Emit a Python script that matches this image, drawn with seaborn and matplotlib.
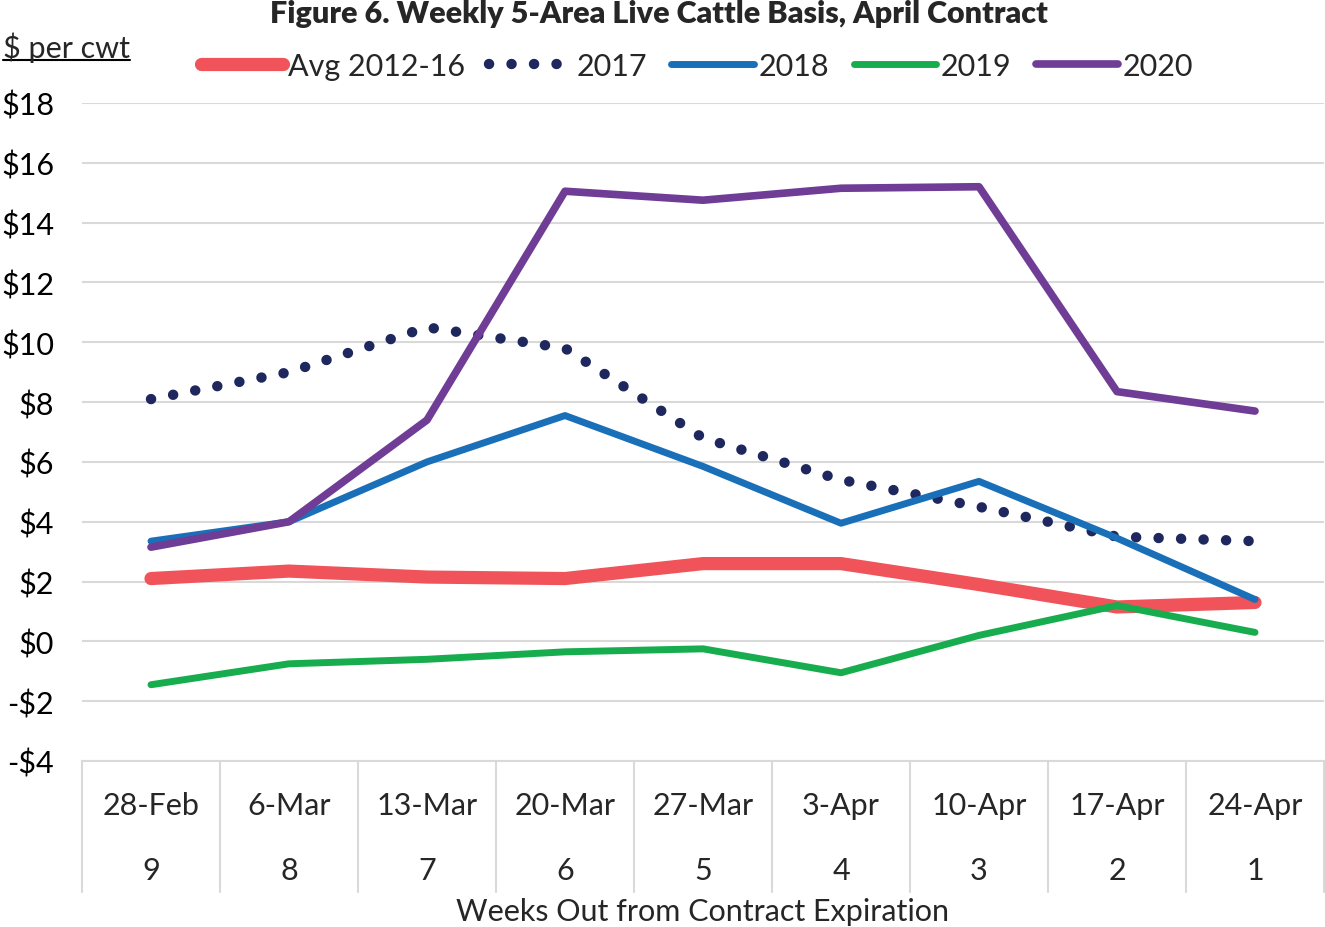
import matplotlib
matplotlib.use("Agg")
import matplotlib.pyplot as plt
import seaborn as sns
import numpy as np
from matplotlib.transforms import blended_transform_factory
from matplotlib.lines import Line2D

# ---- data ----
dates = ["28-Feb", "6-Mar", "13-Mar", "20-Mar", "27-Mar", "3-Apr", "10-Apr", "17-Apr", "24-Apr"]
weeks_out = ["9", "8", "7", "6", "5", "4", "3", "2", "1"]
avg_2012_16 = [2.1, 2.35, 2.15, 2.1, 2.6, 2.6, 1.9, 1.15, 1.3]
y2017 = [8.1, 9.0, 10.5, 9.8, 6.8, 5.4, 4.5, 3.5, 3.35]
y2018 = [3.35, 4.0, 6.0, 7.55, 5.85, 3.95, 5.35, 3.45, 1.4]
y2019 = [-1.45, -0.75, -0.6, -0.35, -0.25, -1.05, 0.2, 1.2, 0.3]
y2020 = [3.15, 4.0, 7.4, 15.05, 14.75, 15.15, 15.2, 8.35, 7.7]
series_names = ["Avg 2012-16", "2017", "2018", "2019", "2020"]
y_ticks = list(range(-4, 20, 2))

# ---- style ----
sns.set_theme(style="white")
plt.rcParams['font.family'] = ['Lato', 'DejaVu Sans']
FS = 22

fig = plt.figure(figsize=(13.25, 9.28), dpi=100)
L, R, T, B = 82 / 1325, 1324 / 1325, 1 - 104 / 928, 1 - 762 / 928
ax = fig.add_axes([L, B, R - L, T - B])

x = np.arange(len(dates))
values = [avg_2012_16, y2017, y2018, y2019, y2020]
colors = ["#F0545A", "#1F285E", "#1A70B8", "#17AD4F", "#6F3C96"]
widths = [9.5, 7.5, 5.0, 5.0, 5.5]
styles = ["-", (0, (0.01, 2.15)), "-", "-", "-"]

handles = []
for name, vals, c, lw, ls in zip(series_names, values, colors, widths, styles):
    sns.lineplot(x=x, y=vals, ax=ax, color=c, linewidth=lw, linestyle=ls,
                 solid_capstyle='round', dash_capstyle='round',
                 solid_joinstyle='round', label=name, legend=False)
    handles.append(Line2D([0], [0], color=c, lw=lw, linestyle=ls,
                          solid_capstyle='round', dash_capstyle='round'))

ax.set_xlim(-0.5, len(dates) - 0.5)
ax.set_ylim(-4, 18)
ax.set_yticks(y_ticks)
ax.set_yticklabels([f"${v}" if v >= 0 else f"-${abs(v)}" for v in y_ticks])
ax.set_xticks([])
ax.set_xlabel("")
ax.set_ylabel("")
ax.yaxis.grid(True, color="#D9D9D9", lw=1.5)
ax.set_axisbelow(True)
for s in ["top", "right", "left"]:
    ax.spines[s].set_visible(False)
ax.spines["bottom"].set_color("#D9D9D9")
ax.spines["bottom"].set_linewidth(1.5)
ax.tick_params(axis='y', length=0, pad=20, labelsize=FS, labelcolor="black")

# multi-level category axis
trans = blended_transform_factory(ax.transData, ax.transAxes)
for b in np.arange(-0.5, len(dates), 1.0):
    ax.add_line(Line2D([b, b], [0, -0.199], transform=trans, color="#D9D9D9",
                       lw=1.5, clip_on=False))
for i, (d, w) in enumerate(zip(dates, weeks_out)):
    ax.text(i, -0.067, d, transform=trans, ha='center', va='center', fontsize=FS)
    ax.text(i, -0.166, w, transform=trans, ha='center', va='center', fontsize=FS)
ax.text(0.5, -0.228, "Weeks Out from Contract Expiration", transform=ax.transAxes,
        ha='center', va='center', fontsize=FS)

# title
fig.text(659 / 1325, 1 - 14 / 928, "Figure 6. Weekly 5-Area Live Cattle Basis, April Contract",
         ha='center', va='center', fontsize=22, fontweight='heavy')

# unit label with underline
ul = fig.text(3 / 1325, 1 - 48 / 928, "$ per cwt", ha='left', va='center', fontsize=FS)
fig.canvas.draw()
bb = ul.get_window_extent().transformed(fig.transFigure.inverted())
fig.add_artist(Line2D([bb.x0, bb.x1], [bb.y0 + 0.002, bb.y0 + 0.002],
                      transform=fig.transFigure, color="black", lw=1.5))

# legend
fig.legend(handles, series_names, loc='center', bbox_to_anchor=(697 / 1325, 1 - 67 / 928),
           ncol=5, frameon=False, fontsize=FS, handlelength=2.7, handletextpad=0.15,
           columnspacing=0.8)

fig.savefig("out.png", dpi=100)
